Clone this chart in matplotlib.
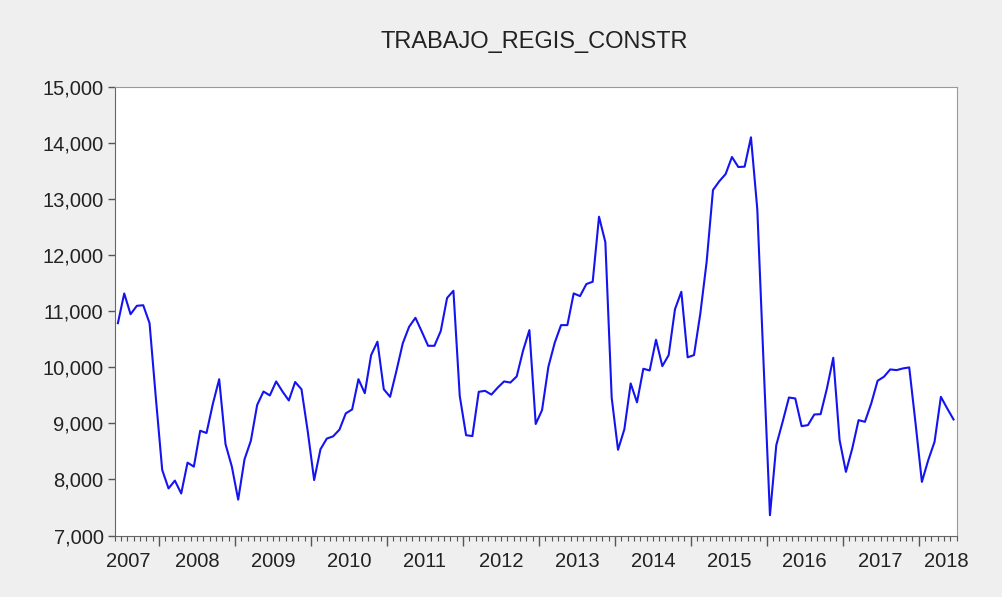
import numpy as np
import matplotlib.pyplot as plt
from matplotlib.ticker import FuncFormatter

plt.rcParams['font.family'] = ['Liberation Sans', 'DejaVu Sans']

# monthly series, 2007M06 .. 2018M06
start_year = 2007
start_month = 6
values = [
    10790, 11320, 10950, 11100, 11110, 10790, 9450,            # 2007 Jun-Dec
    8170, 7840, 7980, 7750, 8300, 8230, 8870, 8830, 9350, 9790, 8630, 8230,      # 2008
    7640, 8360, 8690, 9330, 9570, 9500, 9750, 9570, 9410, 9740, 9610, 8850,      # 2009
    7990, 8540, 8730, 8770, 8890, 9180, 9250, 9790, 9540, 10220, 10460, 9610,    # 2010
    9475, 9940, 10430, 10725, 10886, 10640, 10386, 10386, 10650, 11240, 11368, 9490,  # 2011
    8790, 8775, 9565, 9582, 9515, 9640, 9750, 9730, 9840, 10300, 10666, 8990,    # 2012
    9238, 10011, 10440, 10755, 10755, 11321, 11273, 11488, 11529, 12690, 12235, 9460,  # 2013
    8530, 8895, 9714, 9377, 9976, 9946, 10494, 10023, 10220, 11040, 11350, 10180,  # 2014
    10220, 10960, 11886, 13166, 13323, 13452, 13756, 13577, 13583, 14107, 12824, 10050,  # 2015
    7362, 8612, 9028, 9463, 9446, 8952, 8970, 9160, 9166, 9625, 10172, 8702,     # 2016
    8136, 8553, 9059, 9029, 9357, 9761, 9833, 9964, 9952, 9982, 10000, 9000,     # 2017
    7957, 8345, 8672, 9475, 9268, 9071,                                         # 2018 Jan-Jun
]
years = list(range(2007, 2019))
y_ticks = list(range(7000, 15001, 1000))

n = len(values)
x = np.arange(n)
month_of = [(start_month - 1 + i) % 12 for i in range(n)]
jan_bounds = [i - 0.5 for i in range(n) if month_of[i] == 0]
all_bounds = np.arange(-0.5, n, 1.0)

# label position for each year: middle of its months on the axis
year_pos = []
for yr in years:
    idx = [i for i in range(n) if start_year + (start_month - 1 + i) // 12 == yr]
    year_pos.append((idx[0] + idx[-1]) / 2)
year_pos[0] -= 1.4
year_pos[-1] += 1.3

fig = plt.figure(figsize=(10.02, 5.97), dpi=100, facecolor='#efefef')
ax = fig.add_axes([0.1145, 0.103, 0.8403, 0.7508])
ax.set_facecolor('white')

ax.plot(x, values, color='#1414f0', lw=1.5)

ax.set_xlim(-0.5, n - 0.5)
ax.set_ylim(7000, 15000)
ax.set_yticks(y_ticks)
ax.yaxis.set_major_formatter(FuncFormatter(lambda v, p: f'{int(v):,}'))

ax.set_xticks(jan_bounds)
ax.set_xticks(all_bounds, minor=True)
ax.tick_params(axis='x', which='major', length=7, width=1, color='#555555',
               direction='out', labelbottom=False)
ax.tick_params(axis='x', which='minor', length=3.5, width=0.8, color='#555555',
               direction='out')
ax.tick_params(axis='y', length=5, width=1, color='#555555', direction='out',
               pad=3, labelsize=14.5, labelcolor='#222222')

for pos, yr in zip(year_pos, years):
    ax.text(pos, -0.058, str(yr), transform=ax.get_xaxis_transform(),
            ha='center', va='center', fontsize=14.5, color='#222222')

for side in ['left', 'bottom']:
    ax.spines[side].set_color('#666666')
for side in ['top', 'right']:
    ax.spines[side].set_color('#999999')

fig.text(0.533, 1 - 42 / 597, 'TRABAJO_REGIS_CONSTR', ha='center', va='center',
         fontsize=17, color='#222222')

fig.savefig('out.png', dpi=100, facecolor=fig.get_facecolor())
